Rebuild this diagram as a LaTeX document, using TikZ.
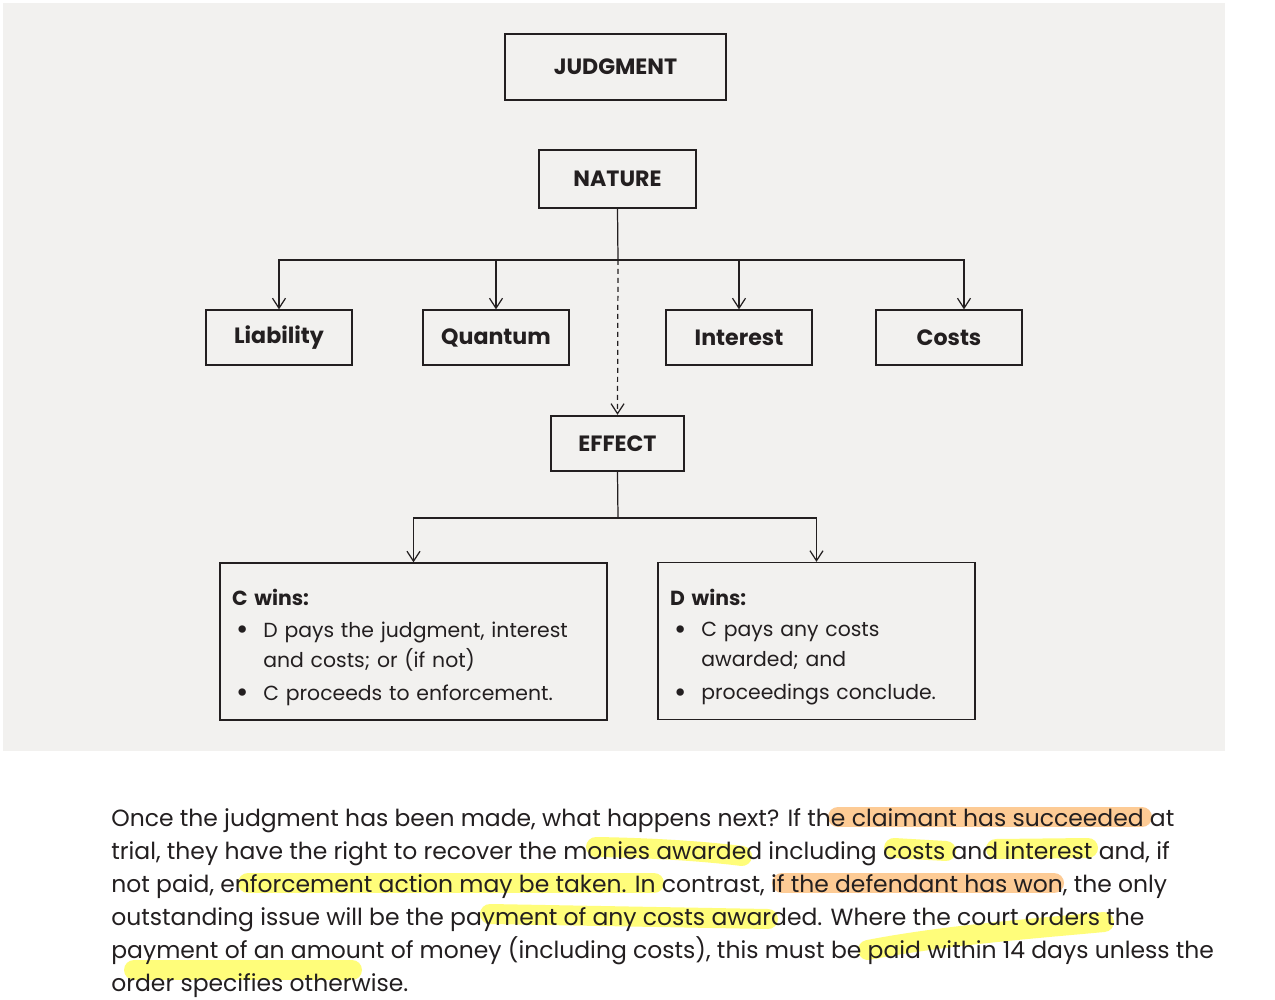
\documentclass[tikz,border=0pt]{standalone}
\usepackage{fontspec}
\setmainfont{Poppins}
\usepackage{xcolor}
\usetikzlibrary{arrows.meta,positioning,calc}
\definecolor{panel}{HTML}{F2F1EF}
\definecolor{ink}{HTML}{231F20}
\definecolor{hlyellow}{HTML}{FFFD7A}
\definecolor{hlorange}{HTML}{FDCB95}
\newcommand{\labelfont}{\fontsize{12.6}{15}\selectfont\bfseries}
\newcommand{\boxfont}{\fontsize{11.6}{17}\selectfont}
\newcommand{\parafont}{\fontsize{13.35}{18}\selectfont}
\newcommand{\blt}{\hspace{0.08cm}{\fontsize{17}{17}\selectfont\raisebox{-0.15ex}{\textbullet}}}

\begin{document}
\begin{tikzpicture}[
    x=0.02cm, y=-0.02cm,
    >={Straight Barb[length=2mm,width=2.6mm]},
    head/.style={draw=ink, line width=1.4pt, inner sep=0pt, font=\labelfont, text=ink},
    topic/.style={draw=ink, line width=0.75pt, inner sep=0pt, minimum width=2.92cm, minimum height=1.1cm, font=\labelfont, text=ink},
    outcome/.style={draw=ink, line width=0.75pt, inner xsep=0.24cm, minimum height=3.14cm, align=left, font=\boxfont, text=ink},
    link/.style={draw=ink, line width=0.7pt},
    paraline/.style={anchor=base west, inner sep=0pt, font=\parafont, text=ink},
    hlyel/.style={draw=hlyellow, line width=0.4cm, line cap=round},
    hlor/.style={draw=hlorange, line width=0.4cm, line cap=round}
]
\useasboundingbox (0,0) rectangle (1275,1000);
\fill[white] (0,0) rectangle (1275,1000);
\fill[panel] (3,3) rectangle (1225,751);

\node[head, minimum width=4.42cm, minimum height=1.32cm] (judgment) at (615.5,67) {JUDGMENT};
\node[head, minimum width=3.14cm, minimum height=1.16cm] (nature) at (617.5,179) {NATURE};

\node[topic] (liability) at (279,337.5) {Liability};
\node[topic] (quantum) at (496,337.5) {Quantum};
\node[topic] (interest) at (739,337.5) {Interest};
\node[topic] (costs) at (949,337.5) {Costs};

\node[head, minimum width=2.66cm, minimum height=1.1cm] (effect) at (617.5,443.5) {EFFECT};

\node[outcome, text width=7.26cm] (cwins) at (413.5,641.5) {%
\begin{tabular}{@{}l@{\hspace{0.3cm}}l@{}}
\multicolumn{2}{@{}l@{}}{\rule{0pt}{0.64cm}\textbf{C wins:}}\\[1pt]
\blt & D pays the judgment, interest\\
 & and costs; or (if not)\\[2pt]
\blt & C proceeds to enforcement.
\end{tabular}};
\node[outcome, text width=5.86cm] (dwins) at (816.5,641) {%
\begin{tabular}{@{}l@{\hspace{0.3cm}}l@{}}
\multicolumn{2}{@{}l@{}}{\rule{0pt}{0.64cm}\textbf{D wins:}}\\[1pt]
\blt & C pays any costs\\
 & awarded; and\\[2pt]
\blt & proceedings conclude.
\end{tabular}};

\coordinate (split) at (618,260);
\coordinate (fork) at (618,518);

\draw[link] (nature.south) -- (split);
\draw[link, ->] (split) -| (liability.north);
\draw[link, ->] (split) -| (quantum.north);
\draw[link, ->] (split) -| (interest.north);
\draw[link, ->] (split) -| ([xshift=0.3cm]costs.north);
\draw[link, ->, dash pattern=on 1mm off 0.8mm] (split) -- (effect.north);
\draw[link] (effect.south) -- (fork);
\draw[link, ->] (fork) -| (cwins.north);
\draw[link, ->] (fork) -| (dwins.north);

% highlighter strokes behind the text
\draw[hlor] (838,817) -- (1142,817);
\draw[hlyel] (596,847) .. controls (660,848) and (710,852) .. (742,856);
\draw[hlyel] (894,848) -- (946,851);
\draw[hlyel] (996,849) -- (1088,848);
\draw[hlyel] (248,883) -- (654,883);
\draw[hlor] (782,883) -- (1054,883);
\draw[hlyel] (490,914) -- (768,919);
\draw[hlyel] (868,950) .. controls (945,935) and (1040,928) .. (1104,922);
\draw[hlyel] (134,970) -- (352,970);

\node[paraline] (para1) at (111,826) {Once the judgment has been made, what happens next? If the claimant has succeeded at};
\node[paraline] (para2) at (111,859) {trial, they have the right to recover the monies awarded including costs and interest and, if};
\node[paraline] (para3) at (111,892) {not paid, enforcement action may be taken. In contrast, if the defendant has won, the only};
\node[paraline] (para4) at (111,925) {outstanding issue will be the payment of any costs awarded. Where the court orders the};
\node[paraline] (para5) at (111,958) {payment of an amount of money (including costs), this must be paid within 14 days unless the};
\node[paraline] (para6) at (111,991) {order specifies otherwise.};
\end{tikzpicture}
\end{document}
